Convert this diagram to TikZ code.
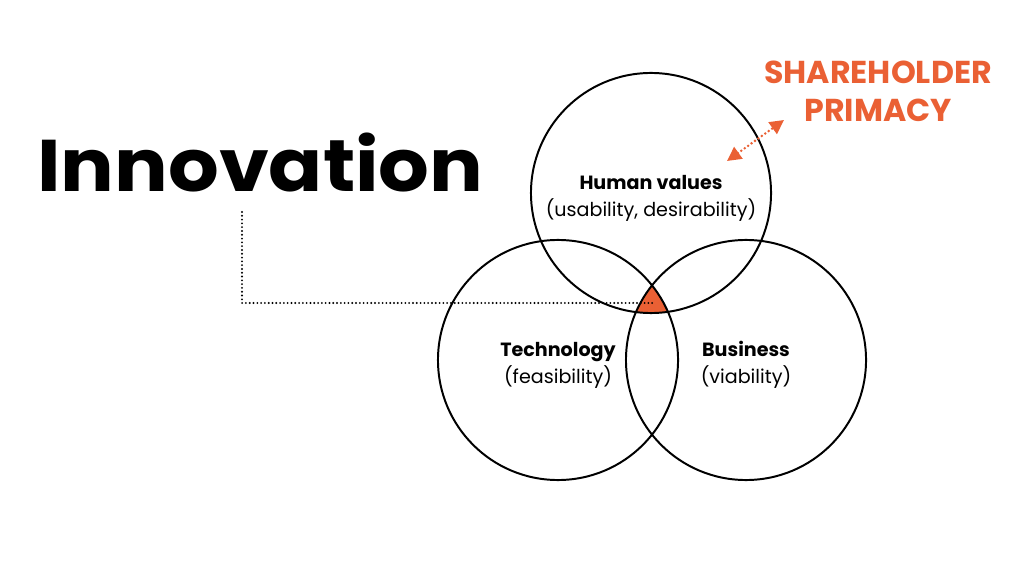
\documentclass[tikz,border=0pt]{standalone}
\usepackage{fontspec}
\setmainfont{Poppins}
\usetikzlibrary{positioning,backgrounds,arrows.meta}

\definecolor{shorange}{RGB}{234,96,52}

\tikzset{
  venn/.style={circle, draw, line width=1.4pt, minimum size=6cm, inner sep=0pt},
  vennlabel/.style={align=center, yshift=-0.13cm, font=\fontsize{13.6}{19.2}\selectfont},
  dotline/.style={line width=1.5pt, line cap=round, dash pattern=on 0pt off 2.7pt},
  pointer/.style={shorange, line width=2pt, line cap=round, dash pattern=on 0pt off 3pt,
    {Triangle[length=10pt,width=10pt]}-{Triangle[length=10pt,width=10pt]}}
}

\begin{document}
\begin{tikzpicture}[x=0.025cm, y=-0.025cm]
\useasboundingbox (0,0) rectangle (1024,576);

% the three circles
\node[venn] (human) at (651,193) {};
\node[venn] (tech) at (558,360) {};
\node[venn] (biz) at (746,360) {};
\node[vennlabel] (humanlbl) at (human) {\textbf{Human values}\\(usability, desirability)};
\node[vennlabel] (techlbl) at (tech) {\textbf{Technology}\\(feasibility)};
\node[vennlabel] (bizlbl) at (biz) {\textbf{Business}\\(viability)};

% the common part
\begin{scope}[on background layer]
\clip (human.center) circle (3cm);
\clip (tech.center) circle (3cm);
\fill[shorange] (biz.center) circle (3cm);
\end{scope}

% title and its pointer
\node[font=\fontsize{52}{52}\selectfont\bfseries, anchor=base west, inner sep=0pt] (innov) at (37,192) {\scalebox{1.09}[1]{Innovation}};
\coordinate (dotstart) at (242,212);
\coordinate (dotend) at (653,303);
\draw[dotline] (dotstart) |- (dotend);

% shareholder note
\node[font=\fontsize{22.5}{27}\selectfont\bfseries, text=shorange, align=center] (share) at (878,91) {SHAREHOLDER\\PRIMACY};
\coordinate (arrlow) at (727,161);
\coordinate (arrhigh) at (784,120);
\draw[pointer] (arrlow) -- (arrhigh);
\end{tikzpicture}
\end{document}
